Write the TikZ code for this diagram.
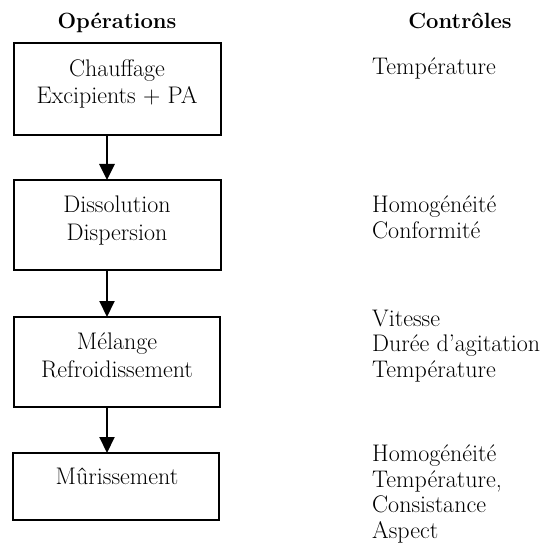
\documentclass[tikz,border=0pt]{standalone}
\usetikzlibrary{arrows.meta}
\begin{document}
\begin{tikzpicture}[x=1pt,y=-1pt,
  opbox/.style={draw,line width=2pt},
  boxtext/.style={inner sep=0pt,align=center,anchor=base,font=\fontsize{24}{27.5}\selectfont},
  heading/.style={inner sep=0pt,anchor=base,font=\fontsize{22}{25}\selectfont\bfseries},
  ctrl/.style={inner sep=0pt,align=left,anchor=base west,font=\fontsize{24}{25.5}\selectfont},
  flow/.style={line width=2pt,-{Triangle[length=16pt,width=15pt]}}]
\path[use as bounding box] (0,0) rectangle (544,553);
% headings
\node[heading] (hop) at (117,29) {Opérations};
\node[heading] (hct) at (460,29) {Contrôles};
% boxes
\draw[opbox] (14,43) rectangle (221,135);
\coordinate (b1b) at (107,135);
\draw[opbox] (14,180) rectangle (221,270);
\coordinate (b2t) at (107,180); \coordinate (b2b) at (107,270);
\draw[opbox] (14,317) rectangle (220,407);
\coordinate (b3t) at (107,317); \coordinate (b3b) at (107,407);
\draw[opbox] (13,453) rectangle (219,520);
\coordinate (b4t) at (107,453);
% box texts (anchor = baseline of last line)
\node[boxtext] (t1) at (117,104) {Chauffage\\Excipients + PA};
\node[boxtext] (t2) at (117,240) {Dissolution\\Dispersion};
\node[boxtext] (t3) at (117,377) {Mélange\\Refroidissement};
\node[boxtext] (t4) at (117,484) {Mûrissement};
% arrows
\draw[flow,line width=2.8pt] (b1b) -- (b2t);
\draw[flow] (b2b) -- (b3t);
\draw[flow] (b3b) -- (b4t);
% controls (anchor = baseline of last line)
\node[ctrl] (c1) at (372,75) {Température};
\node[ctrl] (c2) at (372,238) {Homogénéité\\Conformité};
\node[ctrl] (c3) at (372,377) {Vitesse\\Durée d’agitation\\Température};
\node[ctrl] (c4) at (372,538) {Homogénéité\\Température,\\Consistance\\Aspect};
\end{tikzpicture}
\end{document}
